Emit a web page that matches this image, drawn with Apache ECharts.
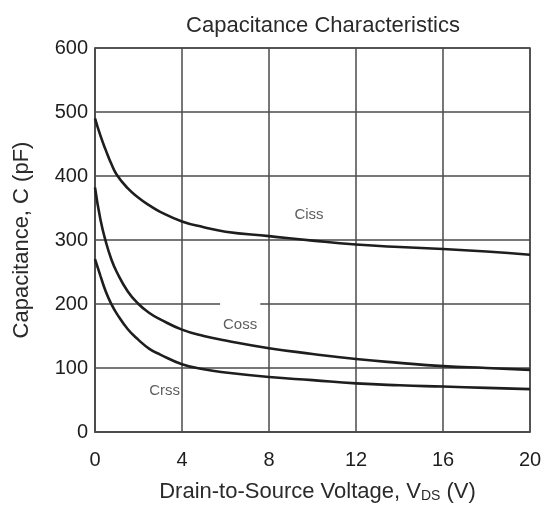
<!DOCTYPE html>
<html><head><meta charset="utf-8">
<script src="https://cdn.jsdelivr.net/npm/echarts@6/dist/echarts.min.js"></script>
<style>html,body{margin:0;padding:0;background:#fff}#c{width:548px;height:508px}</style>
</head><body><div id="c"></div>
<script>
const voltage = [0, 0.25, 0.5, 0.75, 1, 1.5, 2, 2.5, 3, 4, 5, 6, 8, 10, 12, 14, 16, 18, 20];
const ciss = [490, 463, 440, 419, 402, 381, 366, 354, 344, 329, 320, 313, 306, 299, 293, 289, 286, 282, 277];
const coss = [382, 332, 297, 270, 250, 220, 200, 186, 176, 160, 150, 143, 131, 122, 114, 108, 103, 100, 97];
const crss = [270, 244, 219, 200, 185, 161, 144, 130, 121, 106, 98, 93, 86, 81, 76, 73, 71, 69, 67];
const seriesNames = ['Ciss', 'Coss', 'Crss'];
const labelAt = [[9.84, 340], [6.67, 168], [3.2, 64]];
const xTicks = [0, 4, 8, 12, 16, 20];
const yTicks = [0, 100, 200, 300, 400, 500, 600];

const ink = '#1e1e1e';
const gridInk = '#4a4a4a';
const font = 'Liberation Sans, Arial, sans-serif';

function pairs(ys) { return voltage.map((v, i) => [v, ys[i]]); }

const curveSeries = [ciss, coss, crss].map((ys, i) => ({
  name: seriesNames[i], type: 'line', data: pairs(ys), smooth: 0.5,
  symbol: 'none', lineStyle: { color: ink, width: 2.6 }, z: 5,
  markLine: i === 1 ? {
    silent: true, symbol: 'none', label: { show: false },
    lineStyle: { color: '#fff', width: 4, type: 'solid' },
    data: [[{ coord: [5.75, 200] }, { coord: [7.6, 200] }]]
  } : undefined
}));

const chart = echarts.init(document.getElementById('c'));
chart.setOption({
  animation: false,
  backgroundColor: '#fff',
  title: {
    text: 'Capacitance Characteristics', left: 318, top: 10, textAlign: 'center',
    textStyle: { fontFamily: font, fontSize: 22, fontWeight: 'normal', color: '#2a2a2a' }
  },
  grid: { left: 95, right: 18, top: 48, bottom: 75, show: true, borderColor: gridInk, borderWidth: 1.5 },
  xAxis: {
    type: 'value', min: 0, max: 20, interval: 4,
    axisLine: { show: true, lineStyle: { color: gridInk, width: 1.5 } },
    axisTick: { show: false },
    splitLine: { show: true, lineStyle: { color: gridInk, width: 1.5 } },
    axisLabel: { fontFamily: font, fontSize: 20, color: ink, margin: 18,
      formatter: v => xTicks.includes(v) ? String(v) : '' },
    name: 'Drain-to-Source Voltage, V{s|DS} (V)', nameLocation: 'middle', nameGap: 49,
    nameTextStyle: { fontFamily: font, fontSize: 22, color: '#2a2a2a', padding: [0, 0, 0, 10],
      rich: { s: { fontFamily: font, fontSize: 14, color: '#2a2a2a', verticalAlign: 'bottom', padding: [8, 0, 0, 0] } } }
  },
  yAxis: {
    type: 'value', min: 0, max: 600, interval: 100,
    axisLine: { show: true, lineStyle: { color: gridInk, width: 1.5 } },
    axisTick: { show: false },
    splitLine: { show: true, lineStyle: { color: gridInk, width: 1.5 } },
    axisLabel: { fontFamily: font, fontSize: 20, color: ink, margin: 7,
      formatter: v => yTicks.includes(v) ? String(v) : '' },
    name: 'Capacitance, C (pF)', nameLocation: 'middle', nameGap: 62, nameRotate: 90,
    nameTextStyle: { fontFamily: font, fontSize: 22, color: '#2a2a2a' }
  },
  series: curveSeries.concat([{
    type: 'scatter', symbolSize: 0, z: 6,
    data: labelAt.map((p, i) => ({ value: p, name: seriesNames[i] })),
    label: { show: true, position: 'inside', formatter: '{b}', fontFamily: font, fontSize: 15, color: '#333' }
  }])
});
</script></body></html>
